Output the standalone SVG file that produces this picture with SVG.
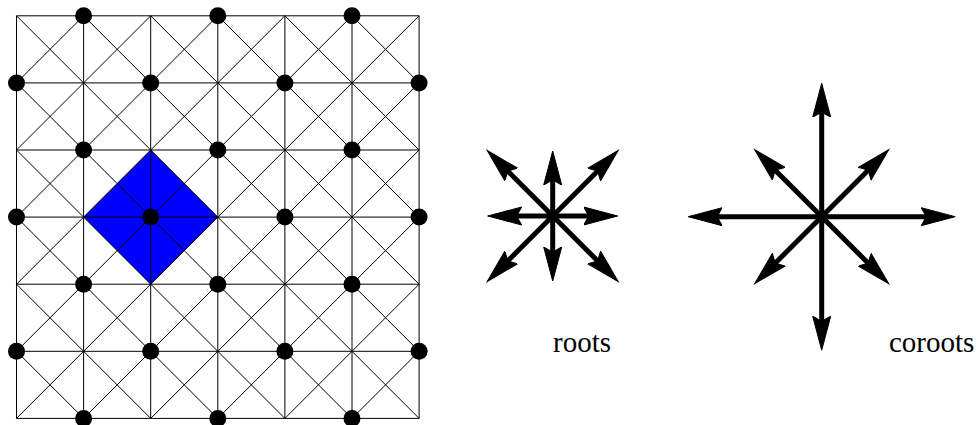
<svg xmlns="http://www.w3.org/2000/svg" width="977" height="425" viewBox="0 0 977 425">
<style>
.grid line{stroke:#000;stroke-width:1;fill:none}
.dot{fill:#000}
.arr{stroke:#000;stroke-width:5;fill:none;marker-start:url(#ah);marker-end:url(#ah)}
.lbl{font-family:"Liberation Serif","Times New Roman",serif;font-size:29px;fill:#000}
</style>
<defs>
<marker id="ah" viewBox="0 -10 40 20" markerWidth="40" markerHeight="20" refX="5" refY="0" orient="auto-start-reverse" markerUnits="userSpaceOnUse">
<path d="M0,-9 L34,0 L0,9 L5,0 Z" fill="#000" stroke="#000" stroke-width="1" stroke-linejoin="miter"/>
</marker>
</defs>
<rect width="977" height="425" fill="#fff"/>
<g id="weight-lattice">
<polygon id="fundamental-domain" points="83.6,217.1 150.7,150 217.8,217.1 150.7,284.2" fill="#0000ff"/>
<g class="grid">
<line x1="16.5" y1="15.8" x2="16.5" y2="418.4"/>
<line x1="83.6" y1="15.8" x2="83.6" y2="418.4"/>
<line x1="150.7" y1="15.8" x2="150.7" y2="418.4"/>
<line x1="217.8" y1="15.8" x2="217.8" y2="418.4"/>
<line x1="284.9" y1="15.8" x2="284.9" y2="418.4"/>
<line x1="352" y1="15.8" x2="352" y2="418.4"/>
<line x1="419.1" y1="15.8" x2="419.1" y2="418.4"/>
<line x1="16.5" y1="15.8" x2="419.1" y2="15.8"/>
<line x1="16.5" y1="82.9" x2="419.1" y2="82.9"/>
<line x1="16.5" y1="150" x2="419.1" y2="150"/>
<line x1="16.5" y1="217.1" x2="419.1" y2="217.1"/>
<line x1="16.5" y1="284.2" x2="419.1" y2="284.2"/>
<line x1="16.5" y1="351.3" x2="419.1" y2="351.3"/>
<line x1="16.5" y1="418.4" x2="419.1" y2="418.4"/>
<line x1="16.5" y1="351.3" x2="83.6" y2="418.4"/>
<line x1="16.5" y1="284.2" x2="150.7" y2="418.4"/>
<line x1="16.5" y1="217.1" x2="217.8" y2="418.4"/>
<line x1="16.5" y1="150" x2="284.9" y2="418.4"/>
<line x1="16.5" y1="82.9" x2="352" y2="418.4"/>
<line x1="16.5" y1="15.8" x2="419.1" y2="418.4"/>
<line x1="83.6" y1="15.8" x2="419.1" y2="351.3"/>
<line x1="150.7" y1="15.8" x2="419.1" y2="284.2"/>
<line x1="217.8" y1="15.8" x2="419.1" y2="217.1"/>
<line x1="284.9" y1="15.8" x2="419.1" y2="150"/>
<line x1="352" y1="15.8" x2="419.1" y2="82.9"/>
<line x1="16.5" y1="82.9" x2="83.6" y2="15.8"/>
<line x1="16.5" y1="150" x2="150.7" y2="15.8"/>
<line x1="16.5" y1="217.1" x2="217.8" y2="15.8"/>
<line x1="16.5" y1="284.2" x2="284.9" y2="15.8"/>
<line x1="16.5" y1="351.3" x2="352" y2="15.8"/>
<line x1="16.5" y1="418.4" x2="419.1" y2="15.8"/>
<line x1="83.6" y1="418.4" x2="419.1" y2="82.9"/>
<line x1="150.7" y1="418.4" x2="419.1" y2="150"/>
<line x1="217.8" y1="418.4" x2="419.1" y2="217.1"/>
<line x1="284.9" y1="418.4" x2="419.1" y2="284.2"/>
<line x1="352" y1="418.4" x2="419.1" y2="351.3"/>
</g>
<g id="lattice-points" class="dot">
<circle cx="83.6" cy="15.8" r="8.5"/><circle cx="217.8" cy="15.8" r="8.5"/><circle cx="352" cy="15.8" r="8.5"/>
<circle cx="16.5" cy="82.9" r="8.5"/><circle cx="150.7" cy="82.9" r="8.5"/><circle cx="284.9" cy="82.9" r="8.5"/><circle cx="419.1" cy="82.9" r="8.5"/>
<circle cx="83.6" cy="150" r="8.5"/><circle cx="217.8" cy="150" r="8.5"/><circle cx="352" cy="150" r="8.5"/>
<circle cx="16.5" cy="217.1" r="8.5"/><circle cx="150.7" cy="217.1" r="8.5"/><circle cx="284.9" cy="217.1" r="8.5"/><circle cx="419.1" cy="217.1" r="8.5"/>
<circle cx="83.6" cy="284.2" r="8.5"/><circle cx="217.8" cy="284.2" r="8.5"/><circle cx="352" cy="284.2" r="8.5"/>
<circle cx="16.5" cy="351.3" r="8.5"/><circle cx="150.7" cy="351.3" r="8.5"/><circle cx="284.9" cy="351.3" r="8.5"/><circle cx="419.1" cy="351.3" r="8.5"/>
<circle cx="83.6" cy="418.4" r="8.5"/><circle cx="217.8" cy="418.4" r="8.5"/><circle cx="352" cy="418.4" r="8.5"/>
</g>
</g>
<g id="roots">
<line class="arr" x1="516.7" y1="216" x2="588.7" y2="216"/>
<line class="arr" x1="552.7" y1="180" x2="552.7" y2="252"/>
<line class="arr" x1="507.7" y1="171" x2="597.7" y2="261"/>
<line class="arr" x1="597.7" y1="171" x2="507.7" y2="261"/>
<text class="lbl" x="553" y="352">roots</text>
</g>
<g id="coroots">
<line class="arr" x1="717.2" y1="216.7" x2="926.2" y2="216.7"/>
<line class="arr" x1="821.7" y1="112.2" x2="821.7" y2="321.2"/>
<line class="arr" x1="775.2" y1="170.2" x2="868.2" y2="263.2"/>
<line class="arr" x1="868.2" y1="170.2" x2="775.2" y2="263.2"/>
<text class="lbl" x="889" y="352">coroots</text>
</g>
</svg>
